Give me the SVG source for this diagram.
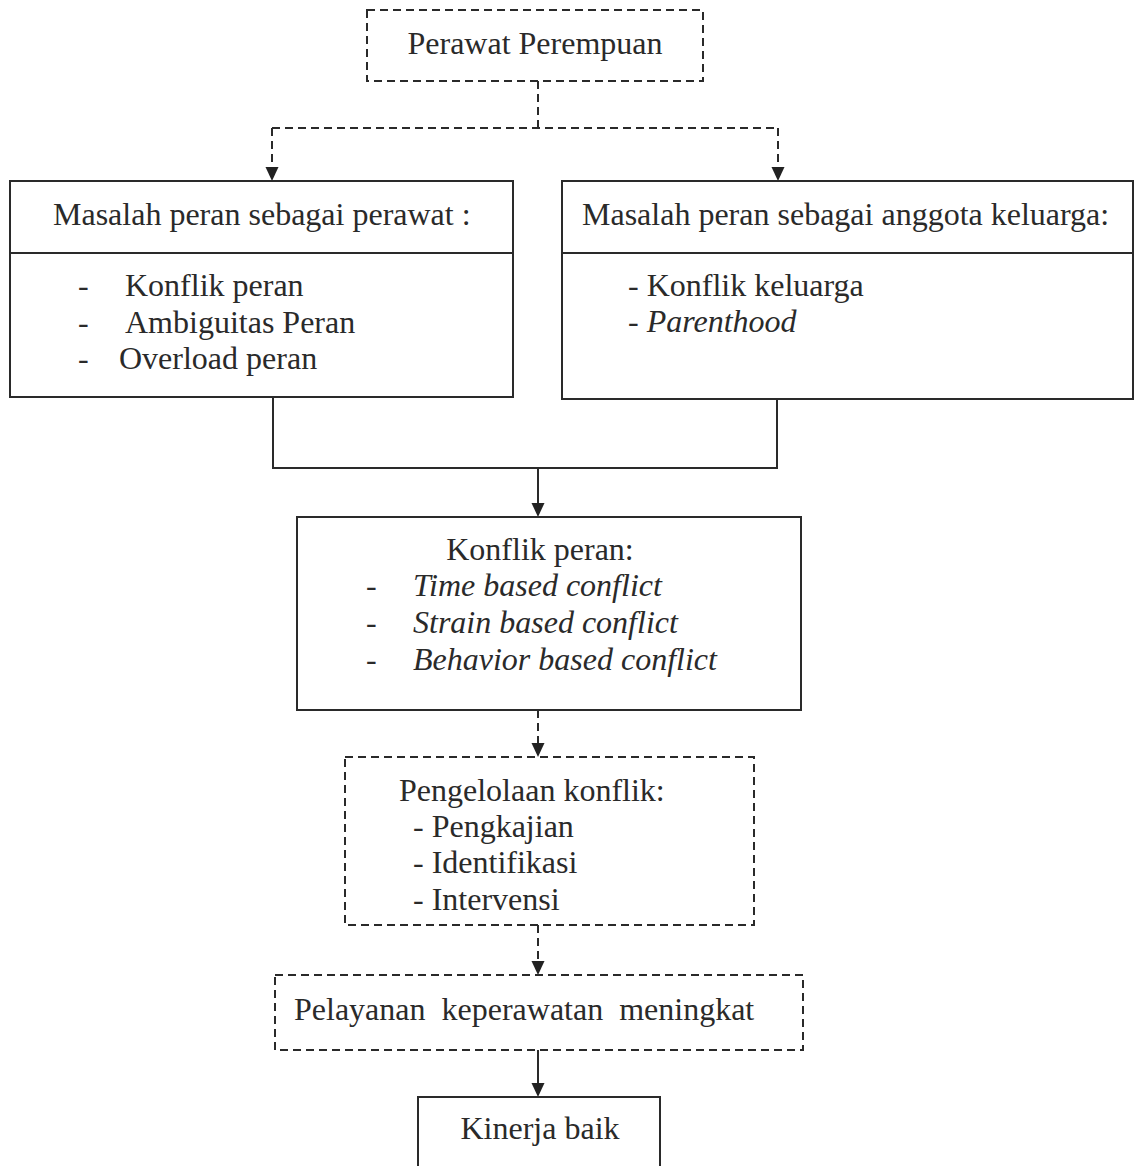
<svg xmlns="http://www.w3.org/2000/svg" width="1135" height="1166" viewBox="0 0 1135 1166">
<defs>
<marker id="arr" markerWidth="14" markerHeight="14" refX="12" refY="6.5" orient="auto" markerUnits="userSpaceOnUse">
<path d="M0,0 L14,6.5 L0,13 Z" fill="#222"/>
</marker>
<style>
text{font-family:"Liberation Serif","Times New Roman",serif;font-size:32px;fill:#2a2a2a}
.it{font-style:italic}
.box{fill:#fff;stroke:#2a2a2a;stroke-width:2}
.dbox{fill:#fff;stroke:#2a2a2a;stroke-width:2;stroke-dasharray:8 5}
.ln{fill:none;stroke:#2a2a2a;stroke-width:2}
.dln{fill:none;stroke:#2a2a2a;stroke-width:2;stroke-dasharray:8 5}
</style>
</defs>
<rect width="1135" height="1166" fill="#fff"/>
<g id="connectors">
<path class="dln" d="M538,81 V128"/>
<path class="dln" d="M272,128 H778"/>
<path class="dln" d="M272,128 V179" marker-end="url(#arr)"/>
<path class="dln" d="M778,128 V179" marker-end="url(#arr)"/>
<path class="ln" d="M273,397 V468 H777 V399"/>
<path class="ln" d="M538,468 V515" marker-end="url(#arr)"/>
<path class="dln" d="M538,710 V755" marker-end="url(#arr)"/>
<path class="dln" d="M538,925 V973" marker-end="url(#arr)"/>
<path class="ln" d="M538,1050 V1095" marker-end="url(#arr)"/>
</g>
<g id="perawat-perempuan">
<rect class="dbox" x="367" y="10" width="336" height="71"/>
<text x="535" y="54" text-anchor="middle">Perawat Perempuan</text>
</g>
<g id="masalah-perawat">
<rect class="box" x="10" y="181" width="503" height="216"/>
<path class="ln" d="M10,253 H513"/>
<text x="53" y="225">Masalah peran sebagai perawat :</text>
<text x="78" y="296">-</text><text x="125" y="296">Konflik peran</text>
<text x="78" y="333">-</text><text x="125" y="333">Ambiguitas Peran</text>
<text x="78" y="369">-</text><text x="119" y="369">Overload peran</text>
</g>
<g id="masalah-keluarga">
<rect class="box" x="562" y="181" width="571" height="218"/>
<path class="ln" d="M562,253 H1133"/>
<text x="582" y="225">Masalah peran sebagai anggota keluarga:</text>
<text x="628" y="296">- Konflik keluarga</text>
<text x="628" y="332">- <tspan class="it">Parenthood</tspan></text>
</g>
<g id="konflik-peran">
<rect class="box" x="297" y="517" width="504" height="193"/>
<text x="540" y="560" text-anchor="middle">Konflik peran:</text>
<text x="366" y="596">-</text><text class="it" x="413" y="596">Time based conflict</text>
<text x="366" y="633">-</text><text class="it" x="413" y="633">Strain based conflict</text>
<text x="366" y="670">-</text><text class="it" x="413" y="670">Behavior based conflict</text>
</g>
<g id="pengelolaan">
<rect class="dbox" x="345" y="757" width="409" height="168"/>
<text x="399" y="801">Pengelolaan konflik:</text>
<text x="413" y="837">- Pengkajian</text>
<text x="413" y="873">- Identifikasi</text>
<text x="413" y="910">- Intervensi</text>
</g>
<g id="pelayanan">
<rect class="dbox" x="275" y="975" width="528" height="75"/>
<text x="294" y="1020" xml:space="preserve">Pelayanan  keperawatan  meningkat</text>
</g>
<g id="kinerja">
<rect class="box" x="418" y="1097" width="242" height="80"/>
<text x="540" y="1139" text-anchor="middle">Kinerja baik</text>
</g>
</svg>
